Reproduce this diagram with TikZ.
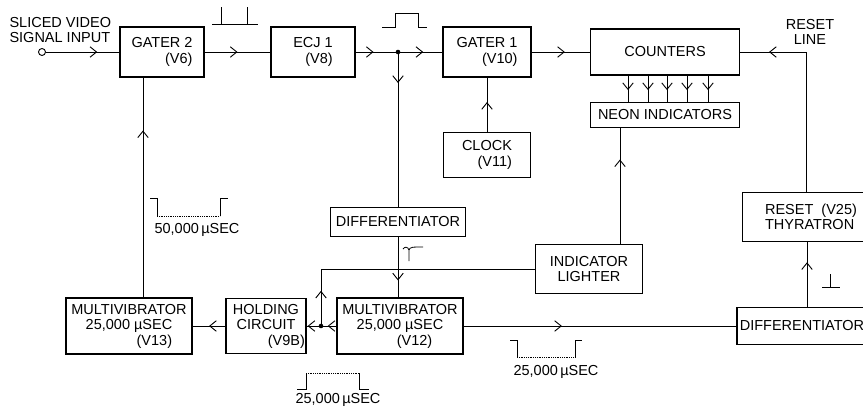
\documentclass[tikz,border=0pt]{standalone}
\usepackage{fontspec}
\setmainfont{Liberation Sans}
\usetikzlibrary{decorations.markings,arrows.meta}

\begin{document}
\begin{tikzpicture}[x=1pt, y=-1pt, font=\fontsize{14.5}{15.5}\selectfont,
  block/.style={draw, line width=1.6pt, inner sep=1pt},
  flow/.style={line width=0.9pt, postaction={decorate},
    decoration={markings, mark=at position #1 with {\arrow{Straight Barb[length=6.5pt,width=10.5pt]}}}},
  wave/.style={line width=0.8pt}]
  \useasboundingbox (0,0) rectangle (863,410);

  \node[block, minimum width=84, minimum height=50, align=right] (gater2) at (162,52) {GATER 2\\(V6)};
  \node[block, minimum width=84, minimum height=50, align=right] (ecj) at (313,52) {ECJ 1\\(V8)};
  \node[block, minimum width=88, minimum height=50, align=right] (gater1) at (487,52) {GATER 1\\(V10)};
  \node[block, minimum width=149, minimum height=46] (counters) at (665,52) {COUNTERS};
  \node[block, minimum width=149, minimum height=25] (neon) at (665,115) {NEON INDICATORS};
  \node[block, minimum width=87, minimum height=45, align=right] (clock) at (487,155) {CLOCK\\(V11)};
  \node[block, minimum width=135, minimum height=29] (diffm) at (398,222) {DIFFERENTIATOR};
  \node[block, minimum width=107, minimum height=49, align=center] (indic) at (589,269) {INDICATOR\\LIGHTER};
  \node[block, minimum width=137, minimum height=49, align=left] (reset) at (811,217) {RESET\ \ (V25)\\THYRATRON};
  \node[block, minimum width=130, minimum height=37] (diffr) at (802,326) {DIFFERENTIATOR};
  \node[block, minimum width=126, minimum height=56, align=center] (v12) at (400,326) {MULTIVIBRATOR\\25,000 µSEC\\\hspace*{2em}(V12)};
  \node[block, minimum width=79, minimum height=55, align=center] (hold) at (266,326) {HOLDING\\CIRCUIT\\\hspace*{2.8em}(V9B)};
  \node[block, minimum width=126, minimum height=56, align=center] (v13) at (129,326) {MULTIVIBRATOR\\25,000 µSEC\\\hspace*{3.5em}(V13)};

  \node[circle, draw, line width=0.9pt, inner sep=0pt, minimum size=7] (input) at (42,52) {};
  \node[anchor=west, align=left] (inlabel) at (6,30) {SLICED VIDEO\\SIGNAL INPUT};
  \node[align=center] (resetlbl) at (810,32) {RESET\\LINE};

  \coordinate (j1) at (398,52);
  \coordinate (j2) at (321,326);

  \draw[flow=0.7] (input) -- (gater2);
  \draw[flow=0.5] (gater2) -- (ecj);
  \draw[flow=0.42] (ecj) -- (j1);
  \draw[flow=0.57] (j1) -- (gater1);
  \draw[flow=0.57] (gater1) -- (counters);
  \draw[flow=0.2] (j1) -- (diffm);
  \draw[flow=0.72] (diffm) -- (diffm.south |- v12.north);
  \draw[flow=0.55] (clock) -- (gater1);
  \foreach \x in {628,648,667,687,708}
    \draw[flow=0.55] (\x,0 |- counters.south) -- (\x,0 |- neon.north);
  \draw[flow=0.73] (620,0 |- indic.north) -- (620,0 |- neon.south);
  \draw[flow=0.86] (806,0 |- reset.north) |- (counters.east);
  \draw[flow=0.69] (807,0 |- diffr.north) -- (807,0 |- reset.south);
  \draw[flow=0.36] (v12) -- (diffr);
  \draw[flow=0.56] (v12) -- (j2);
  \draw[flow=0.93] (j2) -- (hold);
  \draw[flow=0.13] (j2) |- (indic.west);
  \draw[flow=0.5] (hold) -- (v13);
  \draw[flow=0.76] (143,0 |- v13.north) -- (143,0 |- gater2.south);
  \fill (j1) circle (2.3);
  \fill (j2) circle (2.3);

  \draw[wave] (212,24) -- (258,24) (221,24) -- (221,7) (247,24) -- (247,7);
  \draw[wave] (382,27) -- (395,27) -- (395,13) -- (418,13) -- (418,27) -- (427,27);
  \draw[wave] (150,198) -- (157,198) -- (157,216) (220,216) -- (220,198) -- (228,198);
  \draw[wave, densely dotted] (157,216) -- (220,216);
  \node (w50) at (197,230) {50,000\,µSEC};
  \draw[wave] (403,249) .. controls (405,246) and (408,247) .. (409,250) -- (409,261);
  \draw[wave] (409,250) .. controls (410,247) and (412,247) .. (423,247);
  \draw[wave] (822,287) -- (840,287) (830,287) -- (830,274);
  \draw[wave] (510,340) -- (517,340) -- (517,357) (575,357) -- (575,340) -- (582,340);
  \draw[wave, densely dotted] (517,357) -- (575,357);
  \node (w25a) at (556,372) {25,000\,µSEC};
  \draw[wave] (297,389) -- (306,389) -- (306,373) (359,373) -- (359,389) -- (369,389);
  \draw[wave, densely dotted] (306,373) -- (359,373);
  \node (w25b) at (338,400) {25,000\,µSEC};
\end{tikzpicture}
\end{document}
